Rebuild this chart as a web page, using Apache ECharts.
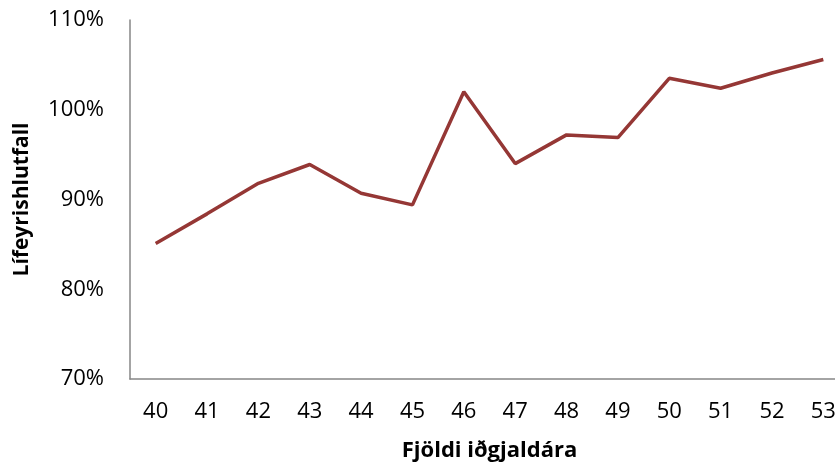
<!DOCTYPE html>
<html>
<head>
<meta charset="utf-8">
<script src="https://cdn.jsdelivr.net/npm/echarts@6/dist/echarts.min.js"></script>
<style>
  html, body { margin: 0; padding: 0; background: #fff; }
  #chart { width: 835px; height: 469px; }
</style>
</head>
<body>
<div id="chart"></div>
<script>
// gögn lesin af myndinni
const years = ['40', '41', '42', '43', '44', '45', '46', '47', '48', '49', '50', '51', '52', '53'];
const ratio = [85.1, 88.4, 91.8, 93.9, 90.7, 89.4, 102.0, 94.0, 97.2, 96.9, 103.5, 102.4, 104.1, 105.6];
const yTicks = [70, 80, 90, 100, 110];

const font = '"Open Sans", "Liberation Sans", sans-serif';

const chart = echarts.init(document.getElementById('chart'));

chart.setOption({
  animation: false,
  grid: {
    left: 130,
    right: -14,
    top: 20,
    bottom: 90,
    outerBoundsMode: 'none',
    containLabel: false
  },
  xAxis: {
    type: 'category',
    data: years,
    boundaryGap: true,
    name: 'Fjöldi iðgjaldára',
    nameLocation: 'middle',
    nameGap: 61,
    nameTextStyle: {
      fontFamily: font,
      fontWeight: 'bold',
      fontSize: 22,
      color: '#000'
    },
    axisLine: {
      lineStyle: { color: '#868686', width: 1.5 }
    },
    axisTick: { show: false },
    axisLabel: {
      margin: 22,
      fontFamily: font,
      fontSize: 22,
      color: '#000'
    }
  },
  yAxis: {
    type: 'value',
    min: yTicks[0],
    max: yTicks[yTicks.length - 1],
    interval: 10,
    name: 'Lífeyrishlutfall',
    nameLocation: 'middle',
    nameGap: 97,
    nameTextStyle: {
      fontFamily: font,
      fontWeight: 'bold',
      fontSize: 21,
      color: '#000'
    },
    axisLine: {
      show: true,
      lineStyle: { color: '#868686', width: 1.5 }
    },
    axisTick: { show: false },
    splitLine: { show: false },
    axisLabel: {
      margin: 26,
      fontFamily: font,
      fontSize: 22,
      color: '#000',
      formatter: '{value}%'
    }
  },
  series: [{
    type: 'line',
    data: ratio,
    symbol: 'none',
    lineStyle: {
      color: '#953735',
      width: 3.5
    }
  }]
});
</script>
</body>
</html>
